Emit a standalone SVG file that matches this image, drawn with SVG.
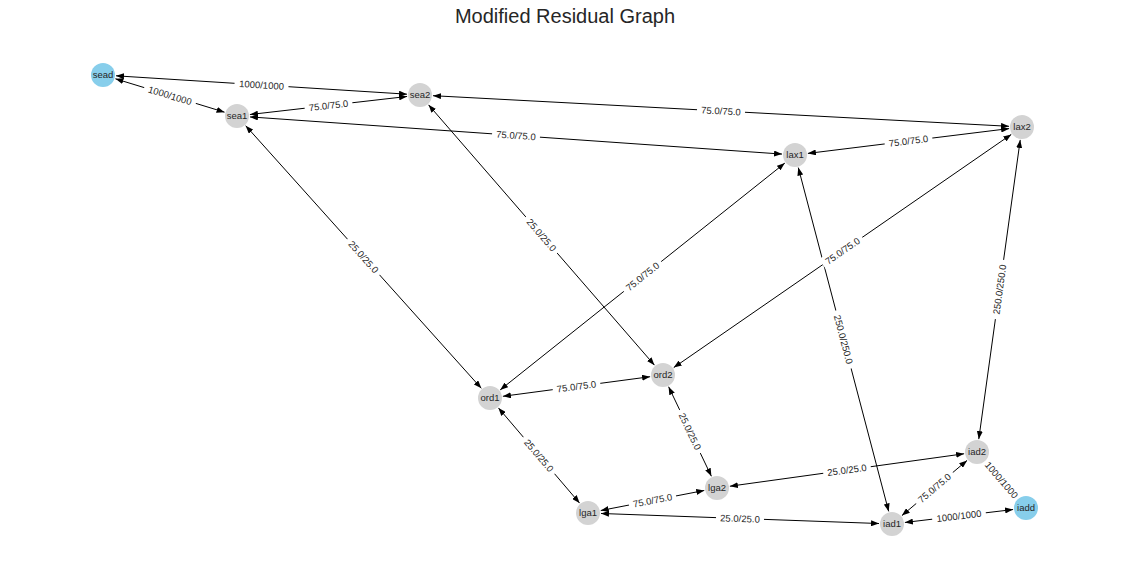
<svg xmlns="http://www.w3.org/2000/svg" width="1130" height="579" viewBox="0 0 1130 579">
<style>
.bg{fill:#ffffff}
.title{font-family:"Liberation Sans",Arial,sans-serif;font-size:20px;fill:#262626;text-anchor:middle}
.e{stroke:#000;stroke-width:1;fill:none;marker-start:url(#ah);marker-end:url(#ah)}
.lb rect{fill:#fff}
.lb text{font-family:"Liberation Sans",Arial,sans-serif;font-size:9.5px;fill:#262626;text-anchor:middle}
.n circle{fill:#d3d3d3}
.n.s circle{fill:#87ceeb}
.n text{font-family:"Liberation Sans",Arial,sans-serif;font-size:9.5px;fill:#262626;text-anchor:middle}
</style>
<defs>
<marker id="ah" viewBox="0 0 8 6" refX="8" refY="3" markerWidth="8" markerHeight="6" markerUnits="userSpaceOnUse" orient="auto-start-reverse">
<path d="M0,0 L8,3 L0,6 z" fill="#000"/>
</marker>
</defs>
<rect class="bg" x="0" y="0" width="1130" height="579"/>
<text class="title" x="565" y="23">Modified Residual Graph</text>
<g id="edges">
<line class="e" x1="115.97" y1="75.82" x2="407.03" y2="94.18"/>
<line class="e" x1="115.43" y1="78.80" x2="224.57" y2="112.20"/>
<line class="e" x1="249.92" y1="114.52" x2="407.08" y2="96.48"/>
<line class="e" x1="432.98" y1="95.69" x2="1009.02" y2="126.31"/>
<line class="e" x1="249.97" y1="116.91" x2="782.03" y2="154.09"/>
<line class="e" x1="807.90" y1="153.41" x2="1009.10" y2="128.59"/>
<line class="e" x1="245.68" y1="125.68" x2="481.32" y2="388.32"/>
<line class="e" x1="428.52" y1="104.82" x2="654.48" y2="365.18"/>
<line class="e" x1="500.17" y1="389.90" x2="784.83" y2="163.10"/>
<line class="e" x1="673.70" y1="367.61" x2="1011.30" y2="134.39"/>
<line class="e" x1="798.30" y1="167.57" x2="888.70" y2="511.43"/>
<line class="e" x1="978.78" y1="439.12" x2="1020.22" y2="139.88"/>
<line class="e" x1="502.89" y1="396.29" x2="650.11" y2="376.71"/>
<line class="e" x1="498.43" y1="407.89" x2="579.57" y2="503.11"/>
<line class="e" x1="668.61" y1="386.73" x2="711.39" y2="476.27"/>
<line class="e" x1="600.76" y1="510.53" x2="704.24" y2="490.47"/>
<line class="e" x1="729.88" y1="486.22" x2="964.12" y2="453.78"/>
<line class="e" x1="600.99" y1="513.47" x2="879.01" y2="523.53"/>
<line class="e" x1="901.92" y1="515.60" x2="967.08" y2="460.40"/>
<line class="e" x1="985.56" y1="461.78" x2="1017.44" y2="498.22"/>
<line class="e" x1="904.91" y1="522.46" x2="1013.09" y2="509.54"/>
</g>
<g id="edge-labels">
<g class="lb" transform="translate(261.5,85) rotate(3.61)"><rect x="-27" y="-6.5" width="54" height="13"/><text y="3.4">1000/1000</text></g>
<g class="lb" transform="translate(170,95.5) rotate(17.01)"><rect x="-27" y="-6.5" width="54" height="13"/><text y="3.4">1000/1000</text></g>
<g class="lb" transform="translate(328.5,105.5) rotate(-6.55)"><rect x="-24" y="-6.5" width="48" height="13"/><text y="3.4">75.0/75.0</text></g>
<g class="lb" transform="translate(721,111) rotate(3.04)"><rect x="-24" y="-6.5" width="48" height="13"/><text y="3.4">75.0/75.0</text></g>
<g class="lb" transform="translate(516,135.5) rotate(4.00)"><rect x="-24" y="-6.5" width="48" height="13"/><text y="3.4">75.0/75.0</text></g>
<g class="lb" transform="translate(908.5,141) rotate(-7.03)"><rect x="-24" y="-6.5" width="48" height="13"/><text y="3.4">75.0/75.0</text></g>
<g class="lb" transform="translate(363.5,257) rotate(48.10)"><rect x="-24" y="-6.5" width="48" height="13"/><text y="3.4">25.0/25.0</text></g>
<g class="lb" transform="translate(541.5,235) rotate(49.04)"><rect x="-24" y="-6.5" width="48" height="13"/><text y="3.4">25.0/25.0</text></g>
<g class="lb" transform="translate(642.5,276.5) rotate(-38.55)"><rect x="-24" y="-6.5" width="48" height="13"/><text y="3.4">75.0/75.0</text></g>
<g class="lb" transform="translate(842.5,251) rotate(-34.64)"><rect x="-24" y="-6.5" width="48" height="13"/><text y="3.4">75.0/75.0</text></g>
<g class="lb" transform="translate(843.5,339.5) rotate(75.27)"><rect x="-30" y="-6.5" width="60" height="13"/><text y="3.4">250.0/250.0</text></g>
<g class="lb" transform="translate(999.5,289.5) rotate(-82.12)"><rect x="-30" y="-6.5" width="60" height="13"/><text y="3.4">250.0/250.0</text></g>
<g class="lb" transform="translate(576.5,386.5) rotate(-7.57)"><rect x="-24" y="-6.5" width="48" height="13"/><text y="3.4">75.0/75.0</text></g>
<g class="lb" transform="translate(539,455.5) rotate(49.56)"><rect x="-24" y="-6.5" width="48" height="13"/><text y="3.4">25.0/25.0</text></g>
<g class="lb" transform="translate(690,431.5) rotate(64.46)"><rect x="-24" y="-6.5" width="48" height="13"/><text y="3.4">25.0/25.0</text></g>
<g class="lb" transform="translate(652.5,500.5) rotate(-10.97)"><rect x="-24" y="-6.5" width="48" height="13"/><text y="3.4">75.0/75.0</text></g>
<g class="lb" transform="translate(847,470) rotate(-7.88)"><rect x="-24" y="-6.5" width="48" height="13"/><text y="3.4">25.0/25.0</text></g>
<g class="lb" transform="translate(740,518.5) rotate(2.07)"><rect x="-24" y="-6.5" width="48" height="13"/><text y="3.4">25.0/25.0</text></g>
<g class="lb" transform="translate(934.5,488) rotate(-40.27)"><rect x="-24" y="-6.5" width="48" height="13"/><text y="3.4">75.0/75.0</text></g>
<g class="lb" transform="translate(1001.5,480) rotate(48.81)"><rect x="-27" y="-6.5" width="54" height="13"/><text y="3.4">1000/1000</text></g>
<g class="lb" transform="translate(959,516) rotate(-6.81)"><rect x="-27" y="-6.5" width="54" height="13"/><text y="3.4">1000/1000</text></g>
</g>
<g id="node-sead" class="n s"><circle cx="103" cy="75" r="12"/><text x="103" y="78.4">sead</text></g>
<g id="node-sea1" class="n"><circle cx="237" cy="116" r="12"/><text x="237" y="119.4">sea1</text></g>
<g id="node-sea2" class="n"><circle cx="420" cy="95" r="12"/><text x="420" y="98.4">sea2</text></g>
<g id="node-lax1" class="n"><circle cx="795" cy="155" r="12"/><text x="795" y="158.4">lax1</text></g>
<g id="node-lax2" class="n"><circle cx="1022" cy="127" r="12"/><text x="1022" y="130.4">lax2</text></g>
<g id="node-ord1" class="n"><circle cx="490" cy="398" r="12"/><text x="490" y="401.4">ord1</text></g>
<g id="node-ord2" class="n"><circle cx="663" cy="375" r="12"/><text x="663" y="378.4">ord2</text></g>
<g id="node-lga1" class="n"><circle cx="588" cy="513" r="12"/><text x="588" y="516.4">lga1</text></g>
<g id="node-lga2" class="n"><circle cx="717" cy="488" r="12"/><text x="717" y="491.4">lga2</text></g>
<g id="node-iad1" class="n"><circle cx="892" cy="524" r="12"/><text x="892" y="527.4">iad1</text></g>
<g id="node-iad2" class="n"><circle cx="977" cy="452" r="12"/><text x="977" y="455.4">iad2</text></g>
<g id="node-iadd" class="n s"><circle cx="1026" cy="508" r="12"/><text x="1026" y="511.4">iadd</text></g>
</svg>
